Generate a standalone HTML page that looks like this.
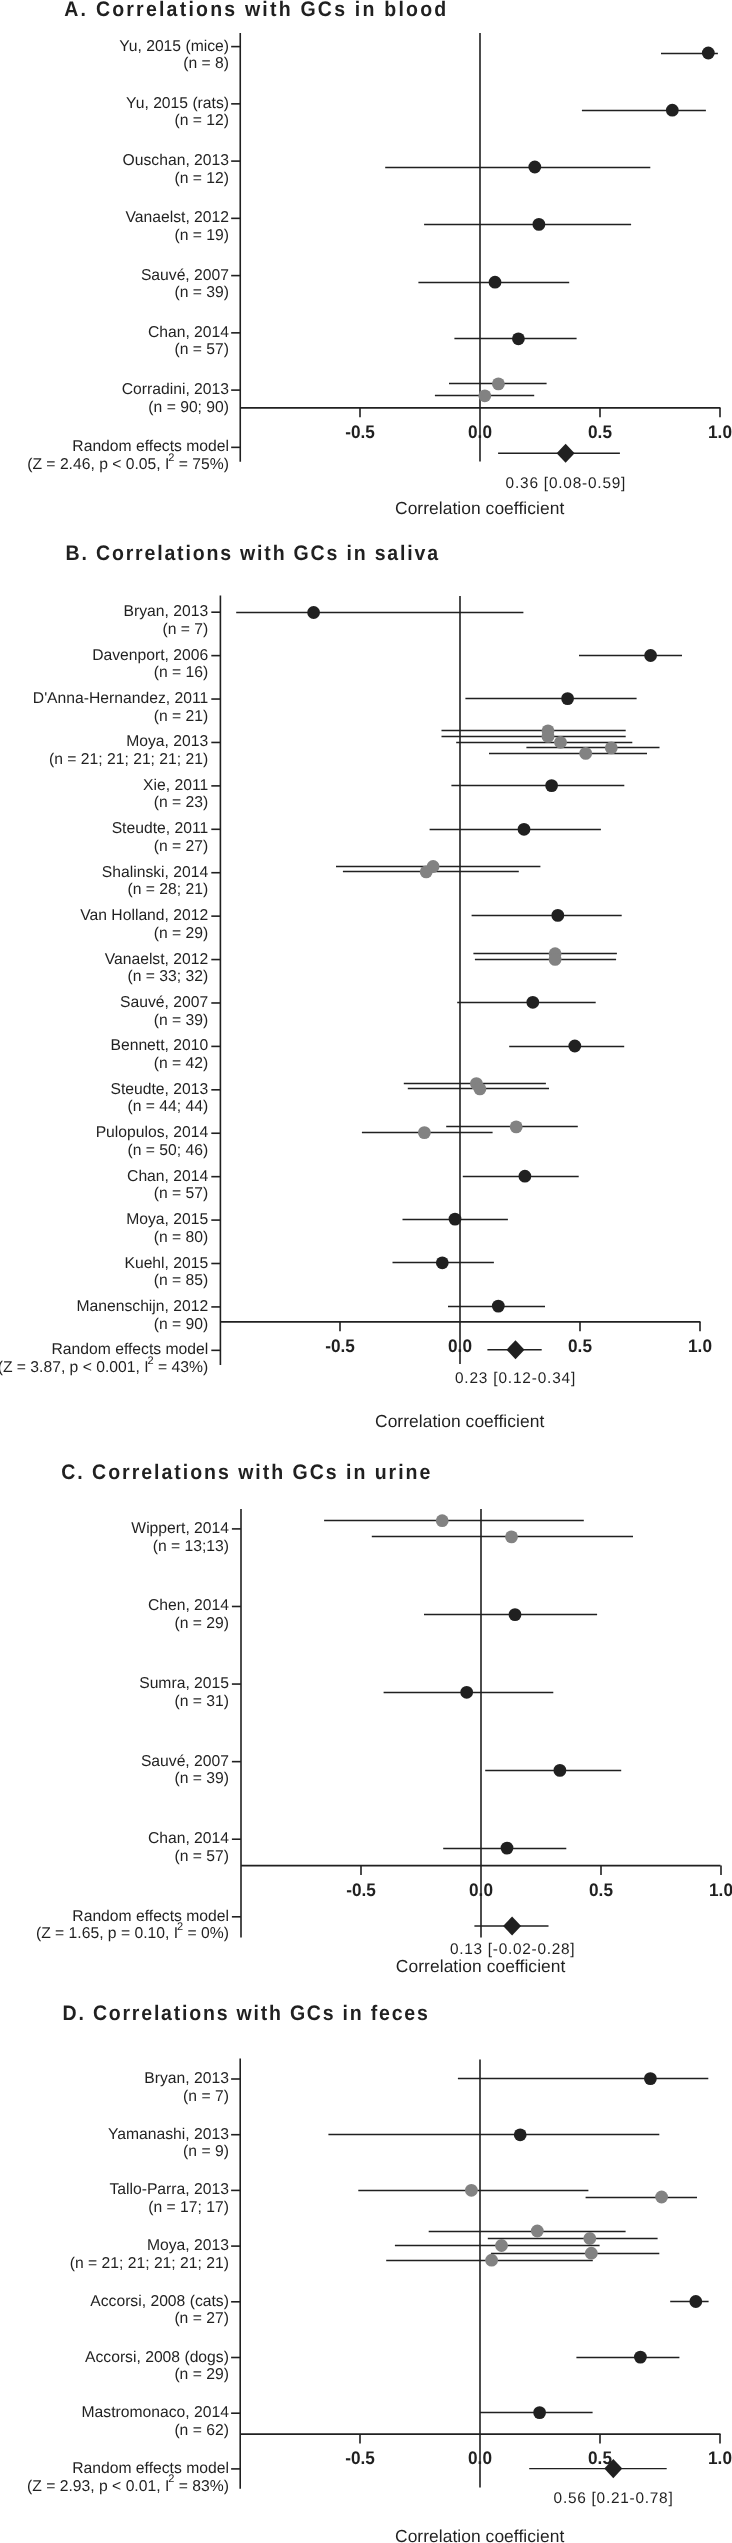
<!DOCTYPE html>
<html><head><meta charset="utf-8"><style>
html,body{margin:0;padding:0;background:#fff;}
body{width:732px;height:2543px;overflow:hidden;}
svg{display:block;filter:grayscale(1);}
text{font-family:"Liberation Sans", sans-serif;fill:#231f20;text-rendering:geometricPrecision;}
.t{font-size:21.0px;font-weight:bold;}
.l{font-size:15.7px;text-anchor:end;}
.sup{font-size:11px;}
.tl{font-size:18.2px;font-weight:bold;text-anchor:middle;}
.ci{font-size:15.4px;}
.cc{font-size:17.4px;}
.a{stroke:#231f20;stroke-width:1.6;}
.c{stroke:#231f20;stroke-width:1.45;}
</style></head><body>
<svg width="732" height="2543" viewBox="0 0 732 2543">
<text transform="translate(64.80,15.80) scale(0.93,1)" x="-0.52" y="0" class="t" textLength="410.62">A. Correlations with GCs in blood</text>
<line x1="240.25" y1="33" x2="240.25" y2="461.8" class="a"/>
<line x1="480" y1="33" x2="480" y2="461.5" class="a"/>
<line x1="240.25" y1="407.9" x2="720.5" y2="407.9" class="a"/>
<line x1="360" y1="407.9" x2="360" y2="417.2" class="a"/>
<line x1="600" y1="407.9" x2="600" y2="417.2" class="a"/>
<line x1="720" y1="407.9" x2="720" y2="417.2" class="a"/>
<text transform="translate(360,438) scale(0.945,1)" class="tl">-0.5</text>
<text transform="translate(480,438) scale(0.945,1)" class="tl">0.0</text>
<text transform="translate(600,438) scale(0.945,1)" class="tl">0.5</text>
<text transform="translate(720,438) scale(0.945,1)" class="tl">1.0</text>
<line x1="231.15" y1="46.6" x2="240.25" y2="46.6" class="a"/>
<text x="229" y="50.6" class="l">Yu, 2015 (mice)</text>
<text x="229" y="68.2" class="l">(n = 8)</text>
<line x1="231.15" y1="103.85" x2="240.25" y2="103.85" class="a"/>
<text x="229" y="107.85" class="l">Yu, 2015 (rats)</text>
<text x="229" y="125.45" class="l">(n = 12)</text>
<line x1="231.15" y1="161.1" x2="240.25" y2="161.1" class="a"/>
<text x="229" y="165.1" class="l">Ouschan, 2013</text>
<text x="229" y="182.7" class="l">(n = 12)</text>
<line x1="231.15" y1="218.35" x2="240.25" y2="218.35" class="a"/>
<text x="229" y="222.35" class="l">Vanaelst, 2012</text>
<text x="229" y="239.95" class="l">(n = 19)</text>
<line x1="231.15" y1="275.6" x2="240.25" y2="275.6" class="a"/>
<text x="229" y="279.6" class="l">Sauvé, 2007</text>
<text x="229" y="297.2" class="l">(n = 39)</text>
<line x1="231.15" y1="332.85" x2="240.25" y2="332.85" class="a"/>
<text x="229" y="336.85" class="l">Chan, 2014</text>
<text x="229" y="354.45" class="l">(n = 57)</text>
<line x1="231.15" y1="390.1" x2="240.25" y2="390.1" class="a"/>
<text x="229" y="394.1" class="l">Corradini, 2013</text>
<text x="229" y="411.7" class="l">(n = 90; 90)</text>
<line x1="231.15" y1="447.35" x2="240.25" y2="447.35" class="a"/>
<text x="229" y="451.35" class="l">Random effects model</text>
<text x="229" y="468.95" class="l">(Z = 2.46, p &lt; 0.05, I<tspan class="sup" dx="-1" dy="-8.3">2</tspan><tspan dy="8.3"> = 75%)</tspan></text>
<line x1="661" y1="53.5" x2="717.9" y2="53.5" class="c"/>
<line x1="581.9" y1="110.5" x2="705.9" y2="110.5" class="c"/>
<line x1="385.2" y1="167.5" x2="650.3" y2="167.5" class="c"/>
<line x1="424.1" y1="224.5" x2="631.1" y2="224.5" class="c"/>
<line x1="418.4" y1="282.5" x2="569.2" y2="282.5" class="c"/>
<line x1="454.4" y1="338.5" x2="576.6" y2="338.5" class="c"/>
<line x1="449" y1="383.5" x2="546.6" y2="383.5" class="c"/>
<line x1="434.9" y1="395.5" x2="534.2" y2="395.5" class="c"/>
<circle cx="708.3" cy="53" r="6.4" fill="#231f20"/>
<circle cx="672.3" cy="110.2" r="6.4" fill="#231f20"/>
<circle cx="534.8" cy="167" r="6.4" fill="#231f20"/>
<circle cx="538.9" cy="224.4" r="6.4" fill="#231f20"/>
<circle cx="495" cy="282.2" r="6.4" fill="#231f20"/>
<circle cx="518.4" cy="338.8" r="6.4" fill="#231f20"/>
<circle cx="498.4" cy="383.9" r="6.4" fill="#808285"/>
<circle cx="484.8" cy="395.8" r="6.4" fill="#808285"/>
<line x1="498.1" y1="453.3" x2="619.9" y2="453.3" class="c"/>
<polygon points="556.6,453.3 565.6,443.75 574.6,453.3 565.6,462.85" fill="#231f20"/>
<text x="505.60" y="488.00" class="ci" textLength="119.80">0.36 [0.08-0.59]</text>
<text x="395.02" y="513.90" class="cc" textLength="169.21">Correlation coefficient</text>
<text transform="translate(66.90,560.00) scale(0.93,1)" x="-1.40" y="0" class="t" textLength="400.52">B. Correlations with GCs in saliva</text>
<line x1="220.4" y1="595.5" x2="220.4" y2="1365" class="a"/>
<line x1="460" y1="596" x2="460" y2="1364" class="a"/>
<line x1="220.4" y1="1321.9" x2="700.5" y2="1321.9" class="a"/>
<line x1="340" y1="1321.9" x2="340" y2="1331.2" class="a"/>
<line x1="580" y1="1321.9" x2="580" y2="1331.2" class="a"/>
<line x1="700" y1="1321.9" x2="700" y2="1331.2" class="a"/>
<text transform="translate(340,1352) scale(0.945,1)" class="tl">-0.5</text>
<text transform="translate(460,1352) scale(0.945,1)" class="tl">0.0</text>
<text transform="translate(580,1352) scale(0.945,1)" class="tl">0.5</text>
<text transform="translate(700,1352) scale(0.945,1)" class="tl">1.0</text>
<line x1="211.3" y1="612.2" x2="220.4" y2="612.2" class="a"/>
<text x="208.2" y="616.2" class="l">Bryan, 2013</text>
<text x="208.2" y="633.8" class="l">(n = 7)</text>
<line x1="211.3" y1="655.62" x2="220.4" y2="655.62" class="a"/>
<text x="208.2" y="659.62" class="l">Davenport, 2006</text>
<text x="208.2" y="677.22" class="l">(n = 16)</text>
<line x1="211.3" y1="699.04" x2="220.4" y2="699.04" class="a"/>
<text x="208.2" y="703.04" class="l">D&#39;Anna-Hernandez, 2011</text>
<text x="208.2" y="720.64" class="l">(n = 21)</text>
<line x1="211.3" y1="742.46" x2="220.4" y2="742.46" class="a"/>
<text x="208.2" y="746.46" class="l">Moya, 2013</text>
<text x="208.2" y="764.06" class="l">(n = 21; 21; 21; 21; 21)</text>
<line x1="211.3" y1="785.88" x2="220.4" y2="785.88" class="a"/>
<text x="208.2" y="789.88" class="l">Xie, 2011</text>
<text x="208.2" y="807.48" class="l">(n = 23)</text>
<line x1="211.3" y1="829.3" x2="220.4" y2="829.3" class="a"/>
<text x="208.2" y="833.3" class="l">Steudte, 2011</text>
<text x="208.2" y="850.9" class="l">(n = 27)</text>
<line x1="211.3" y1="872.72" x2="220.4" y2="872.72" class="a"/>
<text x="208.2" y="876.72" class="l">Shalinski, 2014</text>
<text x="208.2" y="894.32" class="l">(n = 28; 21)</text>
<line x1="211.3" y1="916.14" x2="220.4" y2="916.14" class="a"/>
<text x="208.2" y="920.14" class="l">Van Holland, 2012</text>
<text x="208.2" y="937.74" class="l">(n = 29)</text>
<line x1="211.3" y1="959.56" x2="220.4" y2="959.56" class="a"/>
<text x="208.2" y="963.56" class="l">Vanaelst, 2012</text>
<text x="208.2" y="981.16" class="l">(n = 33; 32)</text>
<line x1="211.3" y1="1002.98" x2="220.4" y2="1002.98" class="a"/>
<text x="208.2" y="1006.98" class="l">Sauvé, 2007</text>
<text x="208.2" y="1024.58" class="l">(n = 39)</text>
<line x1="211.3" y1="1046.4" x2="220.4" y2="1046.4" class="a"/>
<text x="208.2" y="1050.4" class="l">Bennett, 2010</text>
<text x="208.2" y="1068" class="l">(n = 42)</text>
<line x1="211.3" y1="1089.82" x2="220.4" y2="1089.82" class="a"/>
<text x="208.2" y="1093.82" class="l">Steudte, 2013</text>
<text x="208.2" y="1111.42" class="l">(n = 44; 44)</text>
<line x1="211.3" y1="1133.24" x2="220.4" y2="1133.24" class="a"/>
<text x="208.2" y="1137.24" class="l">Pulopulos, 2014</text>
<text x="208.2" y="1154.84" class="l">(n = 50; 46)</text>
<line x1="211.3" y1="1176.66" x2="220.4" y2="1176.66" class="a"/>
<text x="208.2" y="1180.66" class="l">Chan, 2014</text>
<text x="208.2" y="1198.26" class="l">(n = 57)</text>
<line x1="211.3" y1="1220.08" x2="220.4" y2="1220.08" class="a"/>
<text x="208.2" y="1224.08" class="l">Moya, 2015</text>
<text x="208.2" y="1241.68" class="l">(n = 80)</text>
<line x1="211.3" y1="1263.5" x2="220.4" y2="1263.5" class="a"/>
<text x="208.2" y="1267.5" class="l">Kuehl, 2015</text>
<text x="208.2" y="1285.1" class="l">(n = 85)</text>
<line x1="211.3" y1="1306.92" x2="220.4" y2="1306.92" class="a"/>
<text x="208.2" y="1310.92" class="l">Manenschijn, 2012</text>
<text x="208.2" y="1328.52" class="l">(n = 90)</text>
<line x1="211.3" y1="1350.34" x2="220.4" y2="1350.34" class="a"/>
<text x="208.2" y="1354.34" class="l">Random effects model</text>
<text x="208.2" y="1371.94" class="l">(Z = 3.87, p &lt; 0.001, I<tspan class="sup" dx="-1" dy="-8.3">2</tspan><tspan dy="8.3"> = 43%)</tspan></text>
<line x1="236.2" y1="612.5" x2="523.4" y2="612.5" class="c"/>
<line x1="579" y1="655.5" x2="682" y2="655.5" class="c"/>
<line x1="465.4" y1="698.5" x2="636.6" y2="698.5" class="c"/>
<line x1="441.5" y1="730.5" x2="625.7" y2="730.5" class="c"/>
<line x1="441.5" y1="736.5" x2="625.7" y2="736.5" class="c"/>
<line x1="456.2" y1="742.5" x2="632.3" y2="742.5" class="c"/>
<line x1="526.4" y1="747.5" x2="659.5" y2="747.5" class="c"/>
<line x1="489" y1="753.5" x2="647" y2="753.5" class="c"/>
<line x1="451.4" y1="785.5" x2="624.3" y2="785.5" class="c"/>
<line x1="429.6" y1="829.5" x2="600.9" y2="829.5" class="c"/>
<line x1="336" y1="866.5" x2="540.4" y2="866.5" class="c"/>
<line x1="342.9" y1="871.5" x2="518.8" y2="871.5" class="c"/>
<line x1="471.6" y1="915.5" x2="621.7" y2="915.5" class="c"/>
<line x1="473.4" y1="953.5" x2="616.9" y2="953.5" class="c"/>
<line x1="474.9" y1="959.5" x2="616.1" y2="959.5" class="c"/>
<line x1="457.2" y1="1002.5" x2="595.7" y2="1002.5" class="c"/>
<line x1="509.2" y1="1046.5" x2="624.2" y2="1046.5" class="c"/>
<line x1="403.8" y1="1083.5" x2="545.9" y2="1083.5" class="c"/>
<line x1="407.8" y1="1088.5" x2="549" y2="1088.5" class="c"/>
<line x1="446.2" y1="1126.5" x2="577.8" y2="1126.5" class="c"/>
<line x1="361.9" y1="1132.5" x2="492.6" y2="1132.5" class="c"/>
<line x1="462.8" y1="1176.5" x2="578.7" y2="1176.5" class="c"/>
<line x1="402.5" y1="1219.5" x2="507.9" y2="1219.5" class="c"/>
<line x1="392.5" y1="1262.5" x2="493.9" y2="1262.5" class="c"/>
<line x1="448" y1="1306.5" x2="545" y2="1306.5" class="c"/>
<circle cx="313.6" cy="612.5" r="6.4" fill="#231f20"/>
<circle cx="650.6" cy="655.5" r="6.4" fill="#231f20"/>
<circle cx="567.6" cy="698.6" r="6.4" fill="#231f20"/>
<circle cx="548" cy="730.8" r="6.4" fill="#808285"/>
<circle cx="548" cy="736.4" r="6.4" fill="#808285"/>
<circle cx="560.5" cy="742.3" r="6.4" fill="#808285"/>
<circle cx="611.3" cy="747.9" r="6.4" fill="#808285"/>
<circle cx="585.7" cy="753.4" r="6.4" fill="#808285"/>
<circle cx="551.6" cy="785.6" r="6.4" fill="#231f20"/>
<circle cx="524" cy="829.3" r="6.4" fill="#231f20"/>
<circle cx="433.1" cy="866.5" r="6.4" fill="#808285"/>
<circle cx="426.2" cy="871.9" r="6.4" fill="#808285"/>
<circle cx="557.8" cy="915.4" r="6.4" fill="#231f20"/>
<circle cx="555.1" cy="953.7" r="6.4" fill="#808285"/>
<circle cx="555.1" cy="959.4" r="6.4" fill="#808285"/>
<circle cx="532.8" cy="1002.3" r="6.4" fill="#231f20"/>
<circle cx="574.8" cy="1046" r="6.4" fill="#231f20"/>
<circle cx="476.4" cy="1083.6" r="6.4" fill="#808285"/>
<circle cx="479.9" cy="1088.9" r="6.4" fill="#808285"/>
<circle cx="516.2" cy="1126.9" r="6.4" fill="#808285"/>
<circle cx="424.4" cy="1132.6" r="6.4" fill="#808285"/>
<circle cx="524.9" cy="1176.2" r="6.4" fill="#231f20"/>
<circle cx="455" cy="1219.1" r="6.4" fill="#231f20"/>
<circle cx="442.3" cy="1262.8" r="6.4" fill="#231f20"/>
<circle cx="498.3" cy="1306.1" r="6.4" fill="#231f20"/>
<line x1="487.4" y1="1349.7" x2="541.7" y2="1349.7" class="c"/>
<polygon points="506.5,1349.7 515.5,1340.15 524.5,1349.7 515.5,1359.25" fill="#231f20"/>
<text x="454.90" y="1383.20" class="ci" textLength="120.30">0.23 [0.12-0.34]</text>
<text x="375.02" y="1427.10" class="cc" textLength="169.21">Correlation coefficient</text>
<text transform="translate(62.00,1479.30) scale(0.93,1)" x="-0.86" y="0" class="t" textLength="396.96">C. Correlations with GCs in urine</text>
<line x1="241" y1="1509" x2="241" y2="1937.5" class="a"/>
<line x1="481" y1="1509" x2="481" y2="1937.6" class="a"/>
<line x1="241" y1="1865.6" x2="720.5" y2="1865.6" class="a"/>
<line x1="361" y1="1865.6" x2="361" y2="1874.9" class="a"/>
<line x1="601" y1="1865.6" x2="601" y2="1874.9" class="a"/>
<line x1="721" y1="1865.6" x2="721" y2="1874.9" class="a"/>
<text transform="translate(361,1895.6) scale(0.945,1)" class="tl">-0.5</text>
<text transform="translate(481,1895.6) scale(0.945,1)" class="tl">0.0</text>
<text transform="translate(601,1895.6) scale(0.945,1)" class="tl">0.5</text>
<text transform="translate(721,1895.6) scale(0.945,1)" class="tl">1.0</text>
<line x1="231.9" y1="1528.9" x2="241" y2="1528.9" class="a"/>
<text x="229" y="1532.9" class="l">Wippert, 2014</text>
<text x="229" y="1550.5" class="l">(n = 13;13)</text>
<line x1="231.9" y1="1606.48" x2="241" y2="1606.48" class="a"/>
<text x="229" y="1610.48" class="l">Chen, 2014</text>
<text x="229" y="1628.08" class="l">(n = 29)</text>
<line x1="231.9" y1="1684.06" x2="241" y2="1684.06" class="a"/>
<text x="229" y="1688.06" class="l">Sumra, 2015</text>
<text x="229" y="1705.66" class="l">(n = 31)</text>
<line x1="231.9" y1="1761.64" x2="241" y2="1761.64" class="a"/>
<text x="229" y="1765.64" class="l">Sauvé, 2007</text>
<text x="229" y="1783.24" class="l">(n = 39)</text>
<line x1="231.9" y1="1839.22" x2="241" y2="1839.22" class="a"/>
<text x="229" y="1843.22" class="l">Chan, 2014</text>
<text x="229" y="1860.82" class="l">(n = 57)</text>
<line x1="231.9" y1="1916.8" x2="241" y2="1916.8" class="a"/>
<text x="229" y="1920.8" class="l">Random effects model</text>
<text x="229" y="1938.4" class="l">(Z = 1.65, p = 0.10, I<tspan class="sup" dx="-1" dy="-8.3">2</tspan><tspan dy="8.3"> = 0%)</tspan></text>
<line x1="324.1" y1="1520.5" x2="583.8" y2="1520.5" class="c"/>
<line x1="371.8" y1="1536.5" x2="633" y2="1536.5" class="c"/>
<line x1="424" y1="1614.5" x2="597.1" y2="1614.5" class="c"/>
<line x1="383.6" y1="1692.5" x2="553.3" y2="1692.5" class="c"/>
<line x1="485.2" y1="1770.5" x2="621.2" y2="1770.5" class="c"/>
<line x1="443.2" y1="1848.5" x2="566.3" y2="1848.5" class="c"/>
<circle cx="442.2" cy="1520.7" r="6.4" fill="#808285"/>
<circle cx="511.5" cy="1536.9" r="6.4" fill="#808285"/>
<circle cx="515" cy="1614.6" r="6.4" fill="#231f20"/>
<circle cx="466.7" cy="1692.3" r="6.4" fill="#231f20"/>
<circle cx="559.9" cy="1770.4" r="6.4" fill="#231f20"/>
<circle cx="507" cy="1848.1" r="6.4" fill="#231f20"/>
<line x1="474.4" y1="1926" x2="548.5" y2="1926" class="c"/>
<polygon points="503.1,1926 512.1,1916.45 521.1,1926 512.1,1935.55" fill="#231f20"/>
<text x="450.00" y="1954.10" class="ci" textLength="124.60">0.13 [-0.02-0.28]</text>
<text x="395.82" y="1971.90" class="cc" textLength="169.61">Correlation coefficient</text>
<text transform="translate(63.90,2020.10) scale(0.93,1)" x="-1.40" y="0" class="t" textLength="392.70">D. Correlations with GCs in feces</text>
<line x1="240.2" y1="2058.5" x2="240.2" y2="2488.7" class="a"/>
<line x1="480" y1="2059.6" x2="480" y2="2487.5" class="a"/>
<line x1="240.2" y1="2434.1" x2="720.5" y2="2434.1" class="a"/>
<line x1="360" y1="2434.1" x2="360" y2="2443.4" class="a"/>
<line x1="600" y1="2434.1" x2="600" y2="2443.4" class="a"/>
<line x1="720" y1="2434.1" x2="720" y2="2443.4" class="a"/>
<text transform="translate(360,2464.3) scale(0.945,1)" class="tl">-0.5</text>
<text transform="translate(480,2464.3) scale(0.945,1)" class="tl">0.0</text>
<text transform="translate(600,2464.3) scale(0.945,1)" class="tl">0.5</text>
<text transform="translate(720,2464.3) scale(0.945,1)" class="tl">1.0</text>
<line x1="231.1" y1="2079" x2="240.2" y2="2079" class="a"/>
<text x="228.9" y="2083" class="l">Bryan, 2013</text>
<text x="228.9" y="2100.6" class="l">(n = 7)</text>
<line x1="231.1" y1="2134.7" x2="240.2" y2="2134.7" class="a"/>
<text x="228.9" y="2138.7" class="l">Yamanashi, 2013</text>
<text x="228.9" y="2156.3" class="l">(n = 9)</text>
<line x1="231.1" y1="2190.4" x2="240.2" y2="2190.4" class="a"/>
<text x="228.9" y="2194.4" class="l">Tallo-Parra, 2013</text>
<text x="228.9" y="2212" class="l">(n = 17; 17)</text>
<line x1="231.1" y1="2246.1" x2="240.2" y2="2246.1" class="a"/>
<text x="228.9" y="2250.1" class="l">Moya, 2013</text>
<text x="228.9" y="2267.7" class="l">(n = 21; 21; 21; 21; 21)</text>
<line x1="231.1" y1="2301.8" x2="240.2" y2="2301.8" class="a"/>
<text x="228.9" y="2305.8" class="l">Accorsi, 2008 (cats)</text>
<text x="228.9" y="2323.4" class="l">(n = 27)</text>
<line x1="231.1" y1="2357.5" x2="240.2" y2="2357.5" class="a"/>
<text x="228.9" y="2361.5" class="l">Accorsi, 2008 (dogs)</text>
<text x="228.9" y="2379.1" class="l">(n = 29)</text>
<line x1="231.1" y1="2413.2" x2="240.2" y2="2413.2" class="a"/>
<text x="228.9" y="2417.2" class="l">Mastromonaco, 2014</text>
<text x="228.9" y="2434.8" class="l">(n = 62)</text>
<line x1="231.1" y1="2468.9" x2="240.2" y2="2468.9" class="a"/>
<text x="228.9" y="2472.9" class="l">Random effects model</text>
<text x="228.9" y="2490.5" class="l">(Z = 2.93, p &lt; 0.01, I<tspan class="sup" dx="-1" dy="-8.3">2</tspan><tspan dy="8.3"> = 83%)</tspan></text>
<line x1="457.9" y1="2078.5" x2="708.3" y2="2078.5" class="c"/>
<line x1="328.4" y1="2134.5" x2="659.3" y2="2134.5" class="c"/>
<line x1="358.3" y1="2190.5" x2="588.4" y2="2190.5" class="c"/>
<line x1="585.6" y1="2197.5" x2="697" y2="2197.5" class="c"/>
<line x1="428.7" y1="2231.5" x2="625.6" y2="2231.5" class="c"/>
<line x1="487.8" y1="2238.5" x2="657.6" y2="2238.5" class="c"/>
<line x1="394.9" y1="2245.5" x2="599.6" y2="2245.5" class="c"/>
<line x1="490.9" y1="2253.5" x2="659.3" y2="2253.5" class="c"/>
<line x1="386.2" y1="2260.5" x2="592.8" y2="2260.5" class="c"/>
<line x1="670.2" y1="2301.5" x2="708.6" y2="2301.5" class="c"/>
<line x1="576.4" y1="2357.5" x2="679.4" y2="2357.5" class="c"/>
<line x1="480" y1="2412.5" x2="592.6" y2="2412.5" class="c"/>
<circle cx="650.4" cy="2078.6" r="6.4" fill="#231f20"/>
<circle cx="520.2" cy="2134.8" r="6.4" fill="#231f20"/>
<circle cx="471.4" cy="2190.3" r="6.4" fill="#808285"/>
<circle cx="661.6" cy="2197" r="6.4" fill="#808285"/>
<circle cx="537.3" cy="2231" r="6.4" fill="#808285"/>
<circle cx="589.8" cy="2238.5" r="6.4" fill="#808285"/>
<circle cx="501.5" cy="2245.5" r="6.4" fill="#808285"/>
<circle cx="591.3" cy="2253.2" r="6.4" fill="#808285"/>
<circle cx="491.6" cy="2260.2" r="6.4" fill="#808285"/>
<circle cx="695.8" cy="2301.5" r="6.4" fill="#231f20"/>
<circle cx="640.4" cy="2357.1" r="6.4" fill="#231f20"/>
<circle cx="539.6" cy="2412.6" r="6.4" fill="#231f20"/>
<line x1="529.2" y1="2468.6" x2="666.7" y2="2468.6" class="c"/>
<polygon points="604.3,2468.6 613.3,2459.05 622.3,2468.6 613.3,2478.15" fill="#231f20"/>
<text x="553.60" y="2503.20" class="ci" textLength="119.10">0.56 [0.21-0.78]</text>
<text x="395.02" y="2541.80" class="cc" textLength="169.21">Correlation coefficient</text>
</svg>
</body></html>
